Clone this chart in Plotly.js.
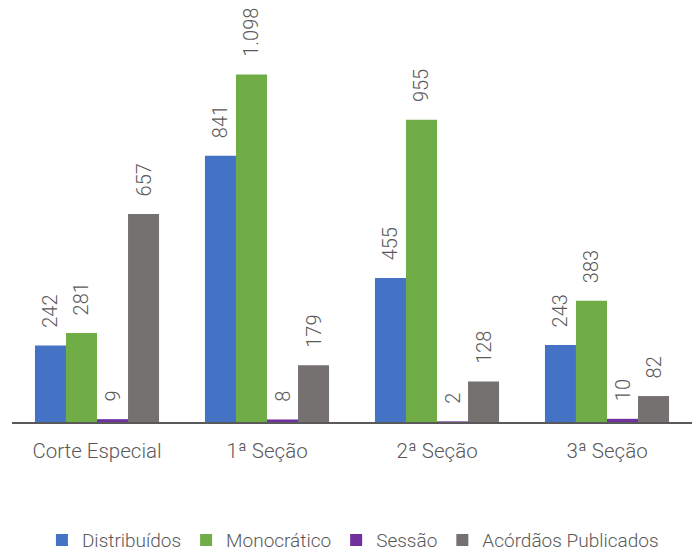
<!DOCTYPE html>
<html>
<head>
<meta charset="utf-8">
<script src="https://cdn.plot.ly/plotly-3.0.1.min.js"></script>
<style>html,body{margin:0;padding:0;background:#fff;}#chart{width:692px;height:554px;}</style>
</head>
<body>
<div id="chart"></div>
<script>
const categories = ["Corte Especial", "1ª Seção", "2ª Seção", "3ª Seção"];
const seriesNames = ["Distribuídos", "Monocrático", "Sessão", "Acórdãos Publicados"];
const distribuidos = [242, 841, 455, 243];
const monocratico = [281, 1098, 955, 383];
const sessao = [9, 8, 2, 10];
const acordaos = [657, 179, 128, 82];
const colors = ["#4472C4", "#70AD47", "#7030A0", "#767171"];

const FONT = "Roboto, sans-serif";
const TXT = "#595959";
const allValues = [distribuidos, monocratico, sessao, acordaos];

const traces = allValues.map((vals, i) => ({
  type: "bar",
  name: seriesNames[i],
  x: categories,
  y: vals,
  marker: {color: colors[i]},
  texttemplate: "\u00a0\u00a0\u00a0%{y:,.0f}",
  textposition: "outside",
  textangle: -90,
  constraintext: "none",
  cliponaxis: false,
  textfont: {family: FONT, size: 20, color: TXT, weight: 300},
  hoverinfo: "skip"
}));

const layout = {
  width: 692, height: 554,
  margin: {l: 12, r: 0, t: 20, b: 132},
  paper_bgcolor: "#fff", plot_bgcolor: "#fff",
  separators: ",.",
  barmode: "group",
  bargap: 0.27,
  bargroupgap: 0,
  font: {family: FONT, color: TXT, weight: 300},
  showlegend: true,
  legend: {
    orientation: "h", x: 0.51, xanchor: "center", xref: "container",
    y: 0.025, yanchor: "middle", yref: "container",
    font: {family: FONT, size: 19, color: TXT, weight: 300},
    itemclick: false
  },
  xaxis: {
    showline: true, linecolor: "#595959", linewidth: 2,
    ticks: "", showgrid: false, zeroline: false, automargin: false,
    ticklabelstandoff: 9,
    tickfont: {family: FONT, size: 20.5, color: TXT, weight: 300}
  },
  yaxis: {
    range: [0, 1270], visible: false, showgrid: false, zeroline: false, automargin: false
  }
};

Plotly.newPlot("chart", traces, layout, {displayModeBar: false, staticPlot: true});
</script>
</body>
</html>
